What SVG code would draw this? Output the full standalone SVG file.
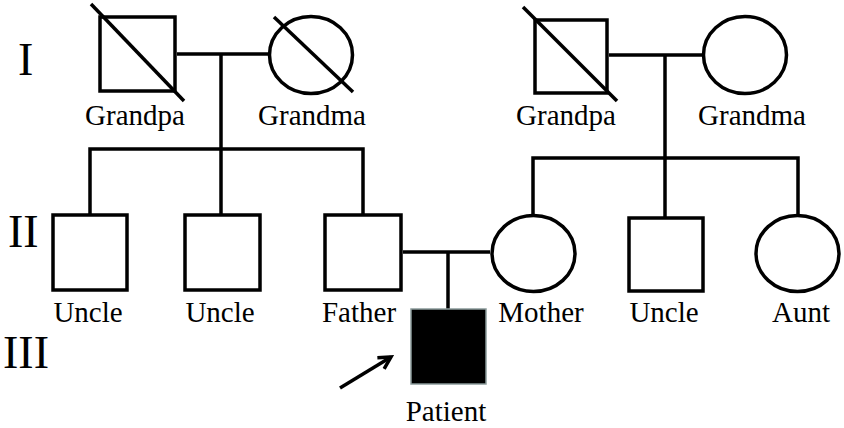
<svg xmlns="http://www.w3.org/2000/svg" width="844" height="428" viewBox="0 0 844 428">
<defs>
<style>
.s{fill:#fff;stroke:#000;stroke-width:3.5}
.d{stroke:#000;stroke-width:3.5;fill:none}
.c line,.c polyline{stroke:#000;stroke-width:3.5;fill:none}
.t{font-family:"Liberation Serif","Times New Roman",serif;font-size:29px;fill:#000;text-anchor:middle}
.g{font-family:"Liberation Serif","Times New Roman",serif;font-size:46px;fill:#000}
</style>
<marker id="ah" markerWidth="16" markerHeight="16" refX="13" refY="8" orient="auto" markerUnits="userSpaceOnUse" viewBox="0 0 16 16">
<polyline points="1,1.5 13,8 1,14.5" fill="none" stroke="#000" stroke-width="3.5"/>
</marker>
</defs>
<rect width="844" height="428" fill="#fff"/>
<g id="generations">
<text class="g" x="18" y="75">I</text>
<text class="g" x="8" y="247">II</text>
<text class="g" x="3" y="368">III</text>
</g>
<g class="c" id="connectors">
<line x1="177" y1="54" x2="268" y2="54"/>
<line x1="221" y1="54" x2="221" y2="149"/>
<polyline points="90,215 90,149 363,149 363,215"/>
<line x1="221" y1="149" x2="221" y2="215"/>
<line x1="609" y1="55" x2="702" y2="55"/>
<line x1="665" y1="55" x2="665" y2="158"/>
<polyline points="533,214 533,158 798,158 798,214"/>
<line x1="665" y1="158" x2="665" y2="218"/>
<line x1="403" y1="252" x2="490" y2="252"/>
<line x1="448" y1="252" x2="448" y2="309"/>
<line x1="340" y1="388" x2="391" y2="357" marker-end="url(#ah)"/>
</g>
<g id="grandpa1">
<rect class="s" x="100" y="17" width="75" height="74"/>
<line class="d" x1="91" y1="4" x2="184" y2="101"/>
<text class="t" x="135" y="125">Grandpa</text>
</g>
<g id="grandma1">
<ellipse class="s" cx="311" cy="55" rx="41.5" ry="38.5"/>
<line class="d" x1="274" y1="17" x2="353" y2="92"/>
<text class="t" x="312" y="125">Grandma</text>
</g>
<g id="grandpa2">
<rect class="s" x="535" y="20" width="72" height="73"/>
<line class="d" x1="523" y1="7" x2="617" y2="101"/>
<text class="t" x="566" y="125">Grandpa</text>
</g>
<g id="grandma2">
<ellipse class="s" cx="745" cy="55" rx="41.5" ry="38.5"/>
<text class="t" x="752" y="125">Grandma</text>
</g>
<g id="uncle1">
<rect class="s" x="53" y="215" width="74" height="75"/>
<text class="t" x="88" y="322">Uncle</text>
</g>
<g id="uncle2">
<rect class="s" x="185" y="215" width="75" height="75"/>
<text class="t" x="220" y="322">Uncle</text>
</g>
<g id="father">
<rect class="s" x="325" y="215" width="76" height="75"/>
<text class="t" x="359" y="322">Father</text>
</g>
<g id="mother">
<ellipse class="s" cx="533.5" cy="253.5" rx="41.5" ry="38"/>
<text class="t" x="541" y="322">Mother</text>
</g>
<g id="uncle3">
<rect class="s" x="629" y="218" width="74" height="73"/>
<text class="t" x="664" y="322">Uncle</text>
</g>
<g id="aunt">
<ellipse class="s" cx="797.5" cy="253.5" rx="41.5" ry="38"/>
<text class="t" x="801" y="322">Aunt</text>
</g>
<g id="patient">
<rect x="411" y="309" width="75" height="75" fill="#000" stroke="#8a9a9a" stroke-width="1.5"/>
<text class="t" x="446" y="421">Patient</text>
</g>
</svg>
